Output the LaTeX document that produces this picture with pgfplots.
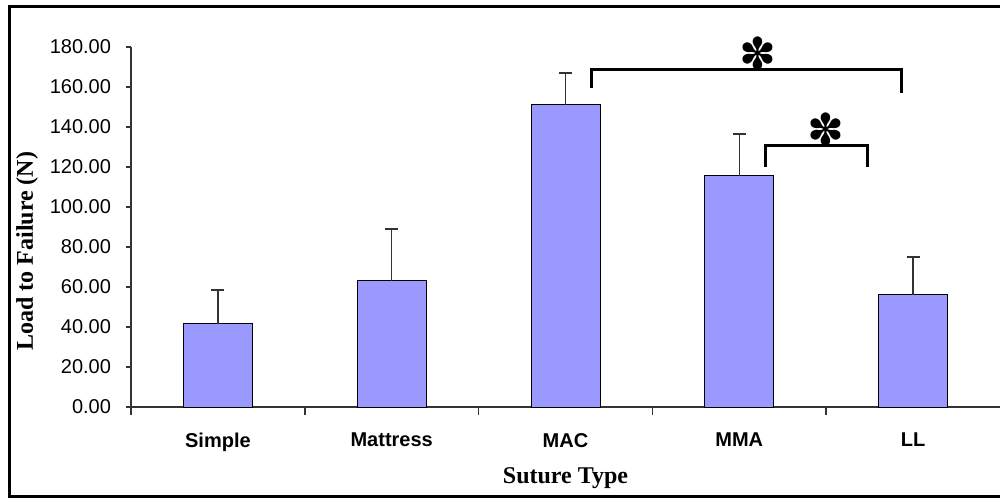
\documentclass[border=0pt]{standalone}
\usepackage{pgfplots}
\pgfplotsset{compat=1.18}
\usepackage{fontspec}
\setmainfont{Liberation Serif}
\newfontfamily\arial{Liberation Sans}
\newfontfamily\dejavu{DejaVu Sans}
\definecolor{barblue}{HTML}{9999FF}
\definecolor{axgray}{HTML}{333333}
\begin{document}
\begin{tikzpicture}
\begin{axis}[
  at={(65.5bp,45.5bp)}, anchor=south west,
  scale only axis, width=434.5bp, height=180bp,
  xmin=-0.5, xmax=4.5, ymin=0, ymax=180,
  axis x line=bottom, axis y line=left,
  axis line style={-, axgray, line width=0.75bp},
  clip=false,
  ytick={0,20,...,180},
  xtick={0,1,2,3,4},
  xticklabels={Simple,Mattress,MAC,MMA,LL},
  major x tick style={draw=none},
  minor xtick={-0.5,0.5,1.5,2.5,3.5},
  minor x tick style={axgray, line width=0.75bp},
  minor tick length=4bp,
  major tick length=2.5bp,
  tick align=outside,
  ytick style={axgray, line width=0.75bp},
  /pgf/number format/assume math mode=true,
  /pgf/number format/.cd, fixed, fixed zerofill, precision=2, use period,
  /pgfplots/.cd,
  yticklabel style={font=\arial\fontsize{10bp}{11bp}\selectfont, text=black, xshift=-4bp},
  xticklabel style={font=\arial\bfseries\fontsize{10bp}{11bp}\selectfont, text=black, yshift=-7bp},
  ylabel={\bfseries Load to Failure (N)},
  every axis y label/.style={at={(axis description cs:-0.1195,0.433)}, rotate=90, anchor=center,
    font=\fontsize{12bp}{14bp}\selectfont},
  xlabel={\bfseries Suture Type},
  every axis x label/.style={at={(axis description cs:0.5,-0.197)}, anchor=center,
    font=\fontsize{12bp}{14bp}\selectfont},
]
\addplot[ybar, bar width=34.5bp, fill=barblue, draw=black, line width=0.5bp,
  error bars/.cd, y dir=plus, y explicit,
  error bar style={axgray, line width=0.75bp},
  error mark options={rotate=90, mark size=3.25bp, axgray, line width=0.75bp}]
  coordinates {
  (0,41.5) +- (0,17.0)
  (1,63.0) +- (0,26.0)
  (2,151.0) +- (0,16.0)
  (3,115.5) +- (0,21.0)
  (4,56.0) +- (0,19.0)
  };
\addplot[black, line width=1.5bp, mark=none] coordinates {(2.148,159.5) (2.148,168.5) (3.935,168.5) (3.935,157)};
\addplot[black, line width=1.5bp, mark=none] coordinates {(3.149,120) (3.149,130.5) (3.74,130.5) (3.74,120)};
\node[font=\dejavu\fontsize{22bp}{22bp}\selectfont, anchor=south, inner sep=0pt] at (axis cs:3.107,168) {✽};
\node[font=\dejavu\fontsize{22bp}{22bp}\selectfont, anchor=south, inner sep=0pt] at (axis cs:3.50,130) {✽};
\end{axis}
\draw[black, line width=1.5bp] (500bp,1bp) -- (4.5bp,1bp) -- (4.5bp,245.5bp) -- (500bp,245.5bp);
\pgfresetboundingbox
\path[use as bounding box] (0,0) rectangle (500bp,249bp);
\end{tikzpicture}
\end{document}
